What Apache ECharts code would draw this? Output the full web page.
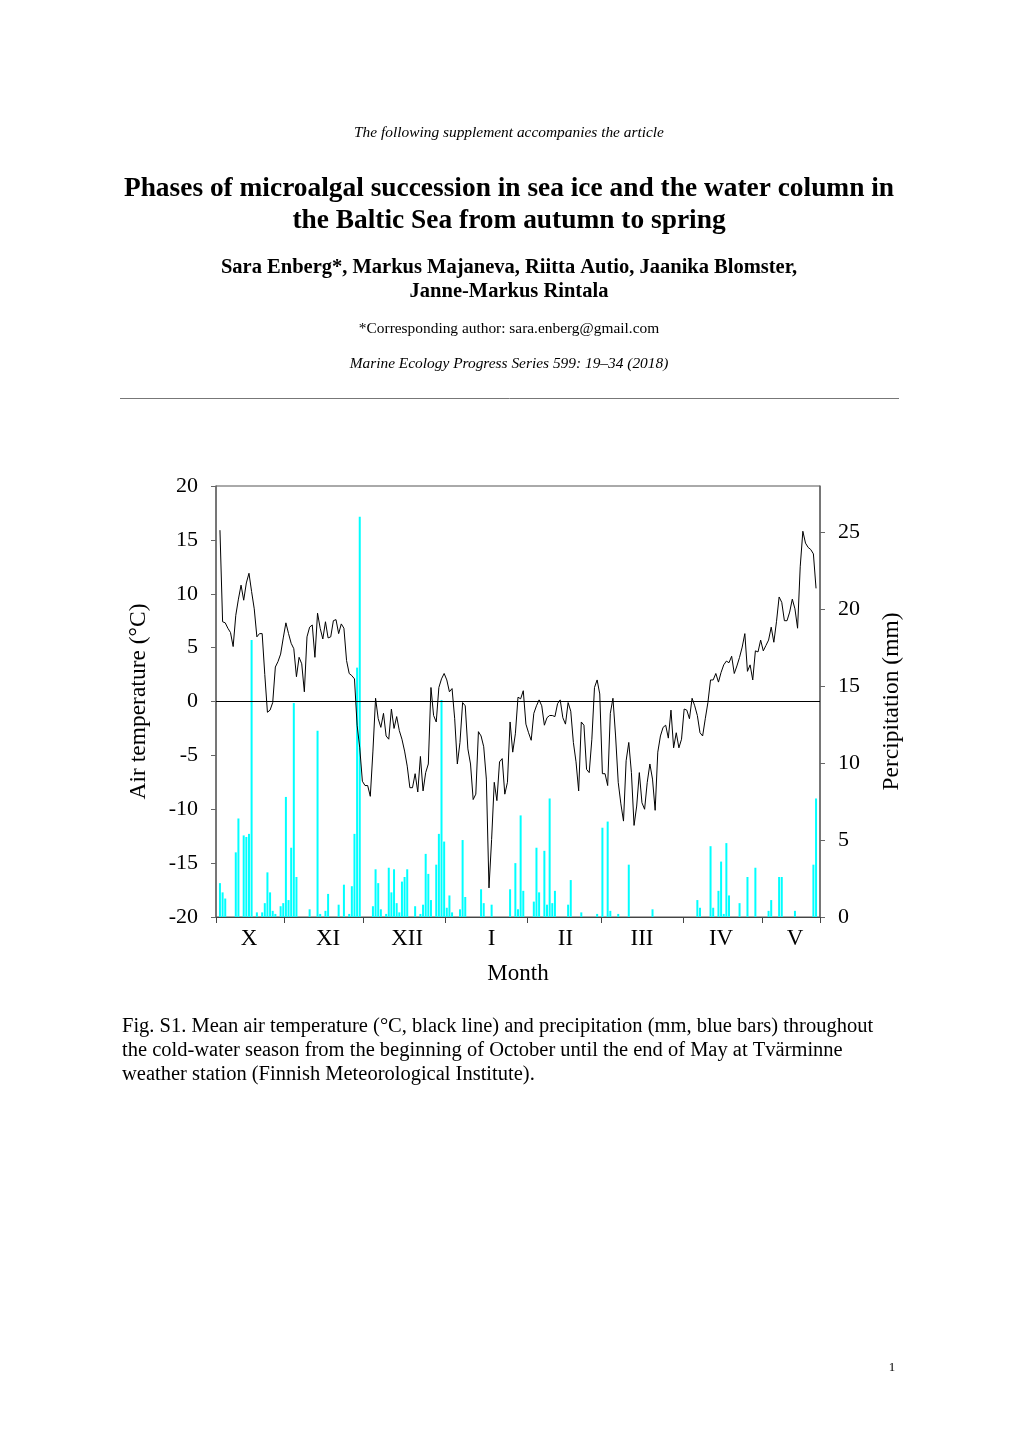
<!DOCTYPE html>
<html>
<head>
<meta charset="utf-8">
<title>Fig. S1</title>
<script src="https://cdn.jsdelivr.net/npm/echarts@6.0.0/dist/echarts.min.js"></script>
<style>
  html, body { margin: 0; padding: 0; background: #fff; }
  #main { width: 1020px; height: 1442px; }
</style>
</head>
<body>
<div id="main"></div>
<script>
// months shown on the x axis (Oct 6 .. May 22), one category per day
var monthNames = ['X', 'XI', 'XII', 'I', 'II', 'III', 'IV', 'V'];
var monthFirstDay = [6, 1, 1, 1, 1, 1, 1, 1];
var monthDays = [26, 30, 31, 31, 28, 31, 30, 22];
// day of month under which the roman numeral sits
var labelDay = [18, 17, 17, 18, 15, 16, 15, 13];

// daily mean air temperature (°C)
var temperature = [
    null, 15.9, 7.4, 7.3, 6.8, 6.4, 5.1, 8.0, 9.5, 10.8,
    9.4, 11.0, 11.9, 10.2, 8.6, 6.0, 6.3, 6.3, 2.5, -1.0,
    -0.8, -0.1, 3.2, 3.7, 4.4, 5.9, 7.3, 6.3, 5.4, 4.9,
    2.3, 4.1, 3.5, 0.9, 6.0, 6.9, 7.1, 4.1, 8.2, 6.8,
    5.8, 7.4, 5.9, 6.0, 7.5, 7.6, 6.3, 7.2, 6.8, 3.8,
    2.6, 2.4, 2.1, -2.2, -4.3, -7.4, -7.8, -7.8, -8.8, -4.6,
    0.3, -1.6, -2.4, -1.1, -3.2, -3.5, -0.7, -2.5, -1.4, -2.7,
    -3.5, -4.6, -6.0, -8.0, -8.0, -6.7, -8.4, -5.1, -8.3, -6.6,
    -5.8, 1.3, -1.3, -1.9, 1.3, 2.1, 2.6, 2.0, 0.9, 1.2,
    -1.6, -5.8, -3.8, -0.1, -0.4, -4.4, -5.8, -9.1, -8.6, -2.8,
    -3.2, -4.2, -7.2, -17.3, -12.8, -7.5, -9.2, -5.6, -5.3, -8.6,
    -7.5, -1.9, -4.7, -3.0, 0.4, 0.25, 1.0, -2.1, -2.9, -3.6,
    -1.1, -0.4, 0.15, -0.4, -2.2, -1.5, -1.3, -1.3, -1.4, -0.2,
    0.15, -1.5, -2.1, -0.1, -0.9, -3.8, -5.6, -8.3, -1.9, -2.2,
    -6.3, -6.6, -3.5, 1.3, 2.0, 0.7, -6.7, -6.7, -7.8, -1.1,
    0.3, -3.2, -7.5, -9.5, -11.1, -5.5, -3.8, -6.6, -11.5, -9.7,
    -6.6, -9.4, -10.0, -7.5, -5.8, -7.2, -10.1, -4.7, -3.2, -2.4,
    -2.2, -3.4, -0.8, -4.3, -2.9, -4.3, -3.5, -0.7, -0.8, -1.6,
    0.3, -0.4, -1.3, -2.9, -3.2, -1.6, -0.1, 2.0, 2.0, 2.6,
    1.8, 2.7, 3.4, 3.75, 3.6, 4.2, 2.6, 3.3, 4.1, 5.05,
    6.3, 2.8, 3.4, 2.0, 4.7, 4.6, 5.7, 4.7, 5.2, 5.7,
    6.9, 5.5, 7.4, 9.7, 9.2, 7.5, 7.5, 8.3, 9.5, 8.6,
    6.8, 12.5, 15.8, 14.7, 14.3, 14.1, 13.7, 10.5, null
];

// daily precipitation (mm)
var precipitation = [
    0, 2.2, 1.6, 1.2, 0, 0, 0, 4.2, 6.4, 0,
    5.3, 5.2, 5.4, 18.0, 0, 0.3, 0, 0.3, 0.9, 2.9,
    1.6, 0.4, 0.2, 0, 0.7, 0.9, 7.8, 1.1, 4.5, 13.9,
    2.6, 0, 0, 0, 0, 0.5, 0, 0, 12.1, 0.2,
    0, 0.4, 1.5, 0, 0, 0, 0.8, 0, 2.1, 0,
    0.2, 2.0, 5.4, 16.2, 26.0, 0, 0, 0, 0, 0.7,
    3.1, 2.2, 0.5, 0, 0.2, 3.2, 1.6, 3.1, 0.9, 0.3,
    2.3, 2.6, 3.1, 0, 0, 0.7, 0, 0.2, 0.8, 4.1,
    2.8, 1.1, 0, 3.4, 5.4, 14.1, 4.9, 0.6, 1.4, 0.3,
    0, 0, 0.5, 5.0, 1.3, 0, 0, 0, 0, 0,
    1.8, 0.9, 0, 0, 0.8, 0, 0, 0, 0, 0,
    0, 1.8, 0, 3.5, 0.5, 6.6, 1.7, 0, 0, 0,
    1.0, 4.5, 1.6, 0, 4.3, 0.8, 7.7, 0.9, 1.7, 0,
    0, 0, 0, 0.8, 2.4, 0, 0, 0, 0.3, 0,
    0, 0, 0, 0, 0.2, 0, 5.8, 0, 6.2, 0.4,
    0, 0, 0.2, 0, 0, 0, 3.4, 0, 0, 0,
    0, 0, 0, 0, 0, 0.5, 0, 0, 0, 0,
    0, 0, 0, 0, 0, 0, 0, 0, 0, 0,
    0, 0, 1.1, 0.6, 0, 0, 0, 4.6, 0.6, 0,
    1.7, 3.6, 0.2, 4.8, 1.4, 0, 0, 0, 0.9, 0,
    0, 2.6, 0, 0, 3.2, 0, 0, 0, 0, 0.4,
    1.1, 0, 0, 2.6, 2.6, 0, 0, 0, 0, 0.4,
    0, 0, 0, 0, 0, 0, 3.4, 7.7, 0
];

var tempTicks = [-20, -15, -10, -5, 0, 5, 10, 15, 20];
var precTicks = [0, 5, 10, 15, 20, 25];

// build the day categories, month-start ticks and label positions
var days = [];
var monthStart = {};
var monthLabel = {};
for (var m = 0; m < monthNames.length; m++) {
    monthStart[days.length] = true;
    for (var k = 0; k < monthDays[m]; k++) {
        var d = monthFirstDay[m] + k;
        if (d === labelDay[m]) {
            monthLabel[days.length] = monthNames[m];
        }
        days.push(monthNames[m] + '-' + d);
    }
}

var serif = '"Liberation Serif", "Times New Roman", serif';

function pageText(x, y, text, font, align) {
    return {
        type: 'text', x: x, y: y,
        style: { text: text, font: font + ' ' + serif, fill: '#000', textAlign: align || 'center', textVerticalAlign: 'middle' }
    };
}

var myChart = echarts.init(document.getElementById('main'));

var option = {
    animation: false,
    backgroundColor: '#fff',
    textStyle: { fontFamily: serif, color: '#000' },
    grid: {
        left: 216,
        right: 200,
        top: 486,
        bottom: 525,
        show: true,
        borderColor: '#555',
        borderWidth: 1
    },
    graphic: [
        pageText(509, 133, 'The following supplement accompanies the article', 'italic 15.4px'),
        pageText(509, 189, 'Phases of microalgal succession in sea ice and the water column in', 'bold 27.4px'),
        pageText(509, 221, 'the Baltic Sea from autumn to spring', 'bold 27.4px'),
        pageText(509, 268, 'Sara Enberg*, Markus Majaneva, Riitta Autio, Jaanika Blomster,', 'bold 20.5px'),
        pageText(509, 292, 'Janne-Markus Rintala', 'bold 20.5px'),
        pageText(509, 329, '*Corresponding author: sara.enberg@gmail.com', '15.4px'),
        pageText(509, 364, 'Marine Ecology Progress Series 599: 19–34 (2018)', 'italic 15.4px'),
        { type: 'line', shape: { x1: 120, y1: 398.5, x2: 899, y2: 398.5 }, style: { stroke: '#777', lineWidth: 1 } },
        pageText(122, 1027, 'Fig. S1. Mean air temperature (°C, black line) and precipitation (mm, blue bars) throughout', '20.5px', 'left'),
        pageText(122, 1051, 'the cold-water season from the beginning of October until the end of May at Tvärminne', '20.5px', 'left'),
        pageText(122, 1075, 'weather station (Finnish Meteorological Institute).', '20.5px', 'left'),
        pageText(892, 1368, '1', '13px')
    ],
    xAxis: {
        type: 'category',
        data: days,
        boundaryGap: true,
        name: 'Month',
        nameLocation: 'middle',
        nameGap: 45,
        nameTextStyle: { fontFamily: serif, fontSize: 23, color: '#000' },
        axisLine: { onZero: false, lineStyle: { color: '#444', width: 1 } },
        axisTick: {
            show: true,
            length: 6,
            interval: function (i) { return monthStart[i] === true; },
            lineStyle: { color: '#444' }
        },
        axisLabel: {
            interval: function (i) { return monthLabel[i] !== undefined; },
            formatter: function (v, i) { return monthLabel[i] || ''; },
            fontFamily: serif,
            fontSize: 23,
            color: '#000',
            margin: 10
        },
        splitLine: { show: false }
    },
    yAxis: [{
        type: 'value',
        min: -20,
        max: 20,
        interval: 5,
        name: 'Air temperature (°C)',
        nameLocation: 'middle',
        nameGap: 65,
        nameTextStyle: { fontFamily: serif, fontSize: 23.5, color: '#000' },
        axisLine: { show: true, lineStyle: { color: '#666', width: 1.5 } },
        axisTick: { show: true, length: 5, customValues: tempTicks, lineStyle: { color: '#666' } },
        axisLabel: { customValues: tempTicks, fontFamily: serif, fontSize: 22, color: '#000', margin: 18 },
        splitLine: { show: false }
    }, {
        type: 'value',
        min: 0,
        max: 28,
        interval: 5,
        position: 'right',
        name: 'Percipitation (mm)',
        nameLocation: 'middle',
        nameGap: 60,
        nameTextStyle: { fontFamily: serif, fontSize: 23.5, color: '#000' },
        axisLine: { show: true, lineStyle: { color: '#666', width: 1.5 } },
        axisTick: { show: true, length: 5, customValues: precTicks, lineStyle: { color: '#666' } },
        axisLabel: { customValues: precTicks, fontFamily: serif, fontSize: 22, color: '#000', margin: 18 },
        splitLine: { show: false }
    }],
    series: [{
        name: 'Precipitation',
        type: 'bar',
        yAxisIndex: 1,
        data: precipitation,
        barWidth: 2,
        itemStyle: { color: '#00ffff' },
        z: 2
    }, {
        name: 'Air temperature',
        type: 'line',
        yAxisIndex: 0,
        data: temperature,
        showSymbol: false,
        connectNulls: false,
        lineStyle: { color: '#000', width: 1 },
        z: 3,
        markLine: {
            silent: true,
            symbol: 'none',
            label: { show: false },
            lineStyle: { color: '#000', width: 1.2, type: 'solid' },
            data: [{ yAxis: 0 }]
        }
    }]
};

myChart.setOption(option);
</script>
</body>
</html>
